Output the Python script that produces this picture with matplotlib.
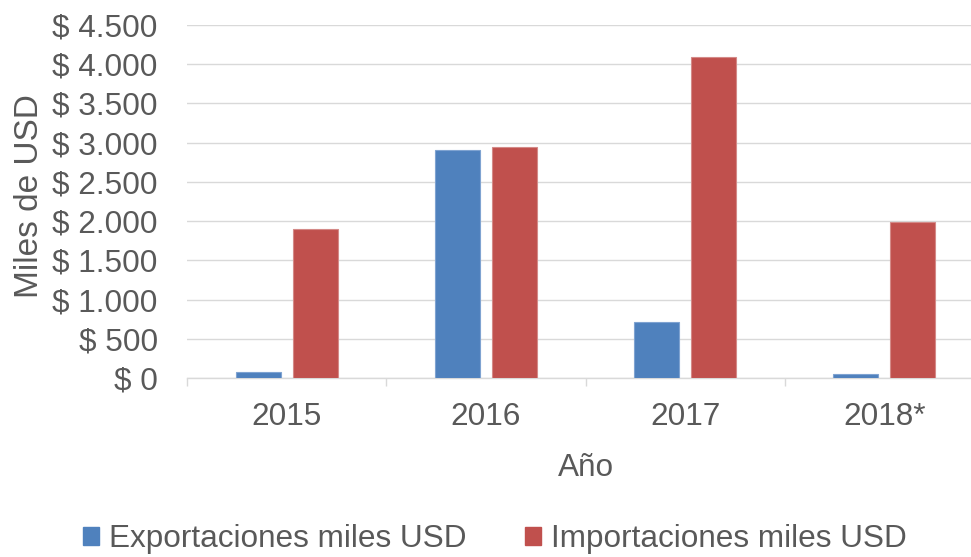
import matplotlib
matplotlib.use("Agg")
import matplotlib.pyplot as plt
import numpy as np
from matplotlib.ticker import FuncFormatter, FixedLocator
from matplotlib.patches import Patch

plt.rcParams['font.family'] = ['Liberation Sans', 'DejaVu Sans']

categories = ["2015", "2016", "2017", "2018*"]
exportaciones = [75, 2905, 720, 50]
importaciones = [1900, 2940, 4090, 1990]
series_names = ["Exportaciones miles USD", "Importaciones miles USD"]
yticks = [0, 500, 1000, 1500, 2000, 2500, 3000, 3500, 4000, 4500]

blue = "#4F81BD"
red = "#C0504D"
txt = "#595959"
grid = "#D9D9D9"
fs = 22.7

fig = plt.figure(figsize=(9.71, 5.57), dpi=100)
ax = fig.add_axes([187/971, 1-378/557, (984-187)/971, (378-25)/557])

x = np.arange(len(categories))
w = 0.226
off = 0.143
ax.bar(x - off, exportaciones, width=w, color=blue, edgecolor="#7FA3D1", linewidth=0.8, zorder=3)
ax.bar(x + off, importaciones, width=w, color=red, edgecolor="#D48A88", linewidth=0.8, zorder=3)

ax.set_xlim(-0.5, len(categories) - 0.5)
ax.set_ylim(0, 4500)
ax.yaxis.set_major_locator(FixedLocator(yticks))
def fmt(v, pos):
    return "$ " + f"{int(v):,}".replace(",", ".")
ax.yaxis.set_major_formatter(FuncFormatter(fmt))
ax.grid(axis='y', color=grid, linewidth=1, zorder=0)
ax.set_axisbelow(True)

for s in ['top', 'right', 'left']:
    ax.spines[s].set_visible(False)
ax.spines['bottom'].set_color(grid)
ax.spines['bottom'].set_linewidth(1)

ax.set_xticks(x)
ax.set_xticklabels(categories)
ax.set_xticks(np.arange(len(categories) + 1) - 0.5, minor=True)
ax.tick_params(axis='x', which='major', length=0, labelsize=fs, labelcolor=txt, pad=17.5)
ax.tick_params(axis='x', which='minor', length=6, color=grid, width=1)
ax.tick_params(axis='y', length=0, labelsize=fs, labelcolor=txt, pad=21)

ax.set_xlabel("Año", fontsize=fs, color=txt, labelpad=15)
ax.set_ylabel("Miles de USD", fontsize=24, color=txt, labelpad=5)
ax.yaxis.label.set_y(0.515)

handles = [Patch(facecolor=blue, edgecolor=blue), Patch(facecolor=red, edgecolor=red)]
fig.legend(handles, series_names, loc='center', bbox_to_anchor=(495/971, 1-539/557),
           ncol=2, frameon=False, fontsize=fs, labelcolor=txt,
           handlelength=0.51, handleheight=0.51, handletextpad=0.33, columnspacing=1.84,
           borderpad=0, borderaxespad=0)

fig.savefig("out.png", dpi=100)
